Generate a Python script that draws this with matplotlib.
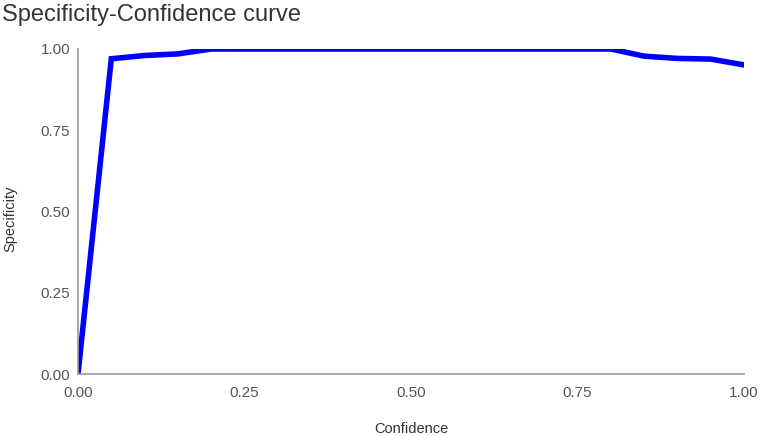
import matplotlib
matplotlib.use("Agg")
import matplotlib.pyplot as plt

plt.rcParams['font.family'] = ['Liberation Sans', 'DejaVu Sans']

confidence = [0.0, 0.05, 0.10, 0.15, 0.20, 0.25, 0.30, 0.35, 0.40, 0.45, 0.50,
              0.55, 0.60, 0.65, 0.70, 0.75, 0.80, 0.85, 0.90, 0.95, 1.0]
specificity = [0.0, 0.970, 0.980, 0.985, 1.0, 1.0, 1.0, 1.0, 1.0, 1.0, 1.0,
               1.0, 1.0, 1.0, 1.0, 1.0, 1.0, 0.978, 0.971, 0.969, 0.951]
ticks = [0.0, 0.25, 0.5, 0.75, 1.0]
tick_labels = ["0.00", "0.25", "0.50", "0.75", "1.00"]

fig = plt.figure(figsize=(7.6, 4.36), dpi=100)
ax = fig.add_axes([78/760, 62/436, 666/760, 325/436])
ax.plot(confidence, specificity, color='#0000ff', lw=4, solid_joinstyle='miter')
ax.set_xlim(0, 1)
ax.set_ylim(0, 1)
ax.set_xticks(ticks, tick_labels)
ax.set_yticks(ticks, tick_labels)
ax.tick_params(length=0, labelsize=11, colors='#555555')
ax.tick_params(axis='x', pad=8.5)
ax.tick_params(axis='y', pad=5.5)
for s in ['top', 'right']:
    ax.spines[s].set_visible(False)
for s in ['left', 'bottom']:
    ax.spines[s].set_color('#999999')
    ax.spines[s].set_linewidth(1.2)

fig.text(411/760, 1 - 429/436, "Confidence", fontsize=10.5, color='#333333',
         ha='center', va='center')
fig.text(10/760, 1 - 219/436, "Specificity", fontsize=10.5, color='#333333',
         ha='center', va='center', rotation=90)
fig.text(2/760, 1 - 15/436, "Specificity-Confidence curve", fontsize=17,
         color='#333333', va='center', ha='left')

fig.savefig("out.png", dpi=100)
